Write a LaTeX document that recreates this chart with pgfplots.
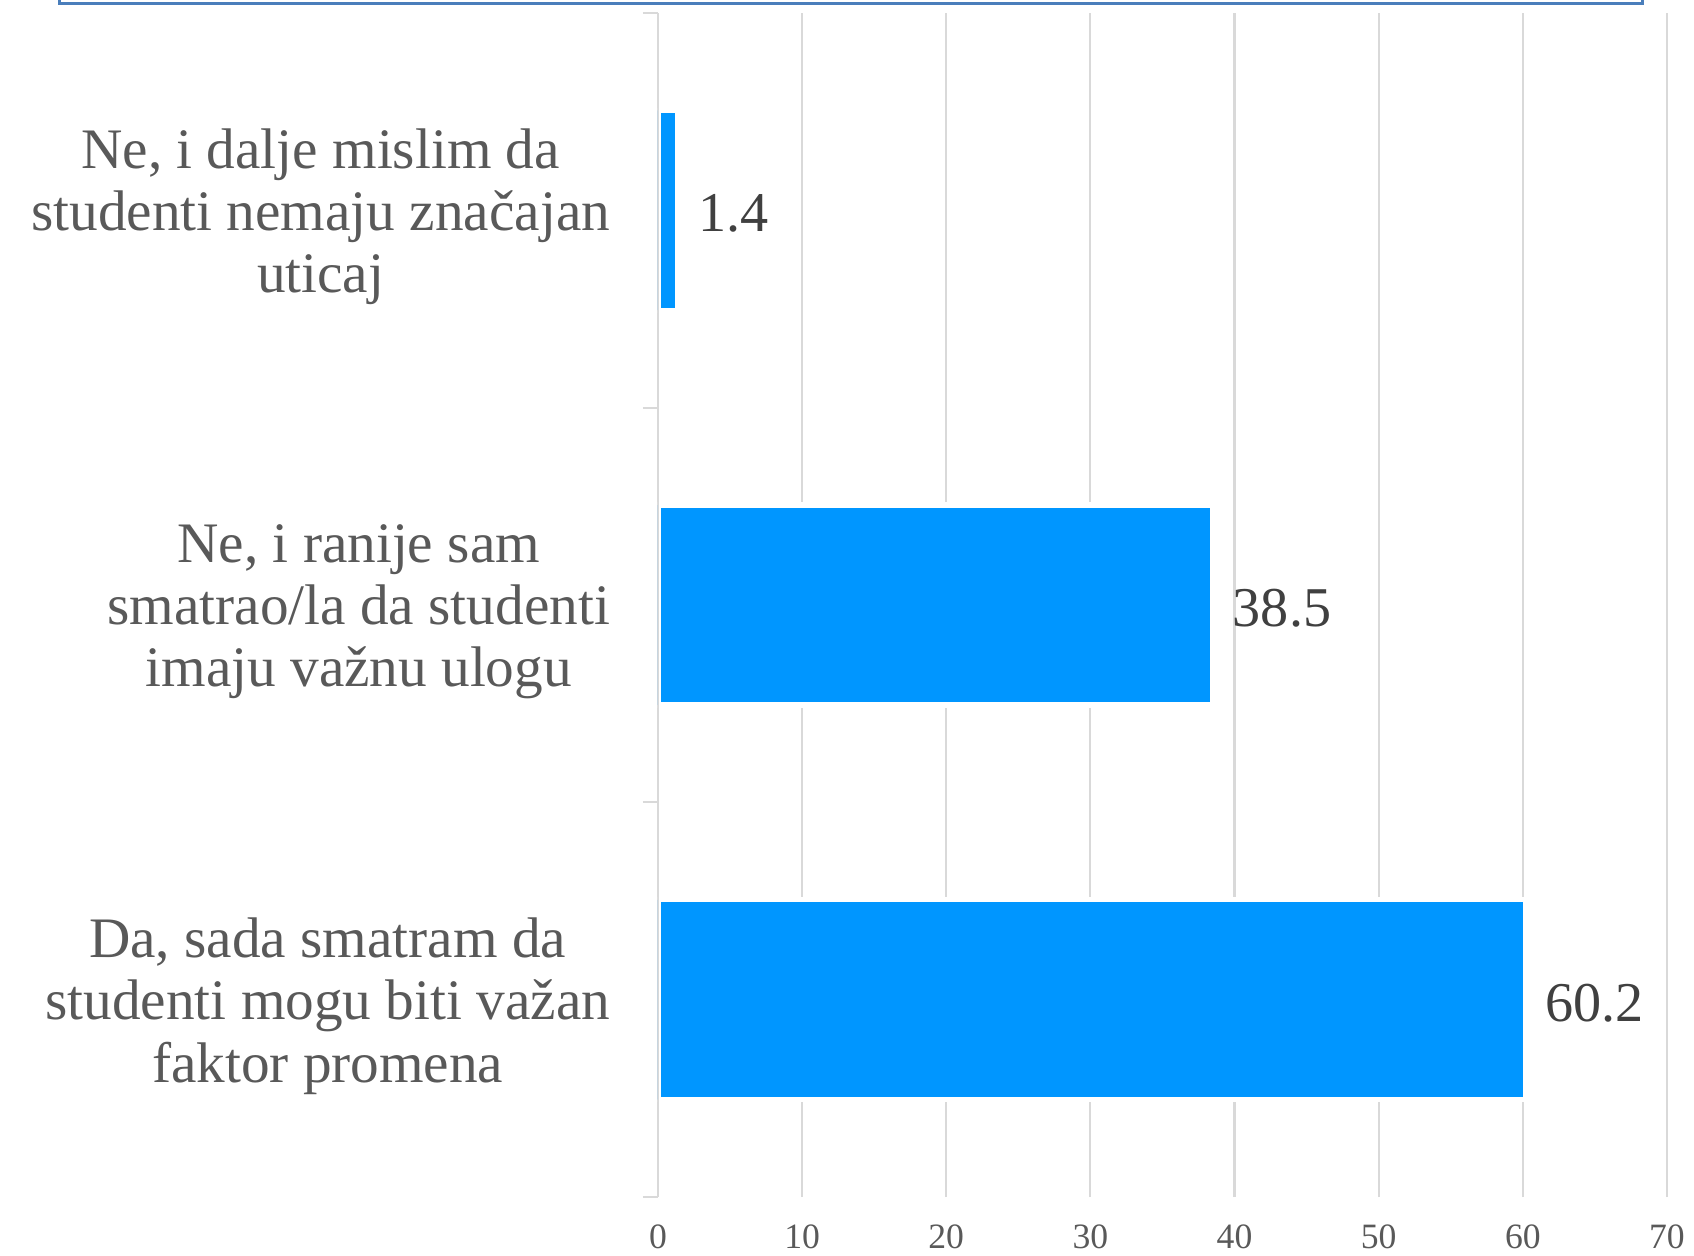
\documentclass[border=0pt]{standalone}
\usepackage{pgfplots}
\pgfplotsset{compat=1.18}
\usepackage{fontspec}
\setmainfont{Liberation Serif}
\definecolor{barblue}{RGB}{0,150,255}
\definecolor{gridgray}{RGB}{217,217,217}
\definecolor{labgray}{RGB}{89,89,89}
\definecolor{valgray}{RGB}{64,64,64}
\definecolor{frameblue}{RGB}{74,126,187}
\begin{document}
\begin{tikzpicture}
\useasboundingbox (0,0) rectangle (784pt,581pt);
\draw[frameblue, line width=1.5pt] (27.5pt,579.5pt) rectangle (760pt,620pt);
\begin{axis}[
  at={(304.5pt,27pt)}, anchor=south west,
  scale only axis, width=467pt, height=548pt,
  xbar, bar width=92.5pt,
  xmin=0, xmax=70, ymin=-0.5, ymax=2.5,
  xtick={0,10,...,70},
  ytick={0,1,2},
  yticklabels={{Da, sada smatram da\\studenti mogu biti važan\\faktor promena},
               {Ne, i ranije sam\\smatrao/la da studenti\\imaju važnu ulogu},
               {Ne, i dalje mislim da\\studenti nemaju značajan\\uticaj}},
  minor ytick={-0.5,0.5,1.5,2.5},
  ytick pos=left,
  tick align=outside,
  major tick length=0pt,
  minor tick length=7pt,
  minor tick style={gridgray, line width=1pt},
  xmajorgrids=true,
  ymajorgrids=false,
  grid style={gridgray, line width=1pt},
  axis line style={draw=none},
  /pgf/number format/assume math mode=true,
  xticklabel style={font=\fontsize{16.5}{16.5}\selectfont, text=labgray, anchor=north, inner sep=0pt, yshift=-12.5pt},
  yticklabel style={font=\fontsize{26.5}{28.75}\selectfont, text=labgray, align=center, anchor=east, inner sep=0pt, xshift=-22pt, yshift=-3pt},
  nodes near coords={\pgfmathprintnumber[fixed,precision=1,fixed zerofill]{\pgfplotspointmeta}},
  every node near coord/.append style={font=\fontsize{26}{26}\selectfont, text=valgray, anchor=west, inner sep=0pt, xshift=8pt, yshift=-1.5pt},
]
\addplot[fill=barblue, draw=white, line width=2.5pt] coordinates {(60.2,0) (38.5,1) (1.4,2)};
\draw[gridgray, line width=1pt] (axis cs:0,-0.5) -- (axis cs:0,2.5);
\end{axis}
\end{tikzpicture}
\end{document}
